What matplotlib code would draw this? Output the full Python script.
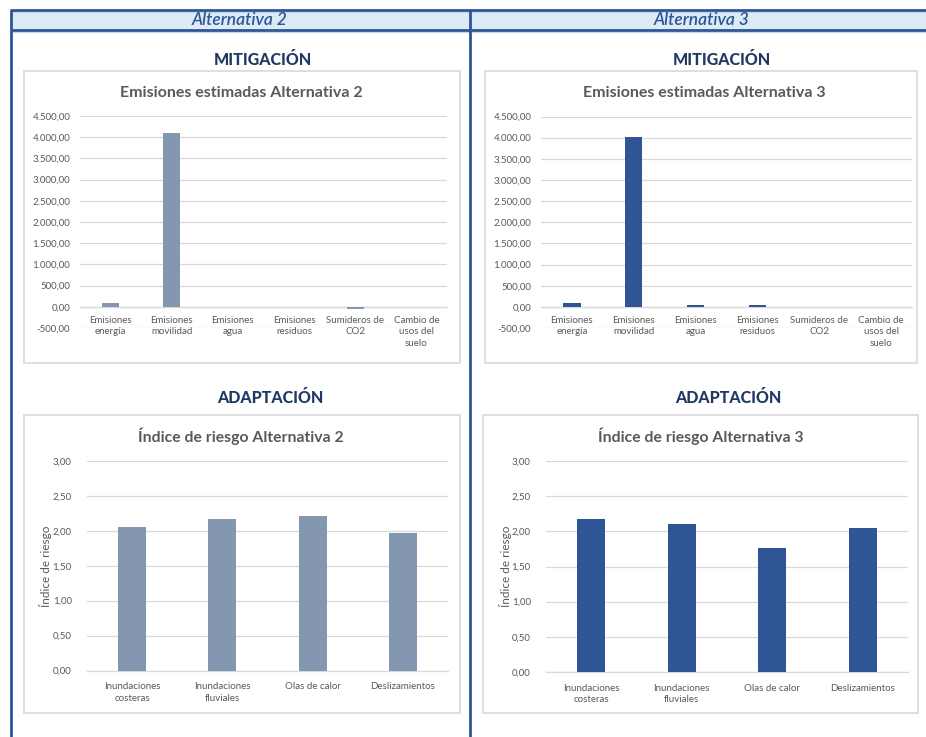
import matplotlib
matplotlib.use("Agg")
import matplotlib.pyplot as plt
from matplotlib.patches import Rectangle
from matplotlib.ticker import FuncFormatter, MultipleLocator

# ---------------- data ----------------
emis_categories = ["Emisiones\nenergía", "Emisiones\nmovilidad", "Emisiones\nagua",
                   "Emisiones\nresiduos", "Sumideros de\nCO2", "Cambio de\nusos del\nsuelo"]
emis_alt2 = [90, 4090, 0, 0, -50, 0]
emis_alt3 = [80, 4020, 40, 45, 0, 0]

risk_categories = ["Inundaciones\ncosteras", "Inundaciones\nfluviales", "Olas de calor", "Deslizamientos"]
risk_alt2 = [2.06, 2.17, 2.21, 1.97]
risk_alt3 = [2.18, 2.11, 1.77, 2.05]

headers = ["Alternativa 2", "Alternativa 3"]
section_titles = ["MITIGACIÓN", "ADAPTACIÓN"]
emis_titles = ["Emisiones estimadas Alternativa 2", "Emisiones estimadas Alternativa 3"]
risk_titles = ["Índice de riesgo Alternativa 2", "Índice de riesgo Alternativa 3"]
risk_ylabel = "Índice de riesgo"

# ---------------- style ----------------
W, H = 926, 737
COL2 = "#8497B0"
COL3 = "#2F5597"
DARK = "#2F5597"
NAVY = "#1F3864"
GRAY = "#595959"
GRID = "#D9D9D9"
FONT = ["Lato", "DejaVu Sans"]
plt.rcParams["font.family"] = FONT

fig = plt.figure(figsize=(W / 100, H / 100), dpi=100)
fig.patch.set_facecolor("white")


def rect(x0, y0, x1, y1):
    return [x0 / W, 1 - y1 / H, (x1 - x0) / W, (y1 - y0) / H]


# background/frame axes in pixel coords
bg = fig.add_axes([0, 0, 1, 1])
bg.set_xlim(0, W)
bg.set_ylim(H, 0)
bg.axis("off")

# header band
bg.add_patch(Rectangle((11, 9.5), W - 11, 20.5, facecolor="#DDEBF7", edgecolor="none", zorder=1))
for yy in (9.5, 30):
    bg.plot([11, W], [yy, yy], color=DARK, lw=2.0, zorder=3, solid_capstyle="butt")
    bg.plot([11, W], [yy + 2.2, yy + 2.2], color="#BDD7EE", lw=0.8, zorder=2)
for xx in (11, 470):
    bg.plot([xx, xx], [8.5, H], color=DARK, lw=2.0, zorder=3, solid_capstyle="butt")

bg.text(240, 19.5, headers[0], ha="center", va="center", fontsize=12.5, style="italic",
        fontweight="semibold", color=DARK)
bg.text(702, 19.5, headers[1], ha="center", va="center", fontsize=12.5, style="italic",
        fontweight="semibold", color=DARK)

# section titles
for cx, cy, t in [(263, 60, section_titles[0]), (722, 60, section_titles[0]),
                  (270, 398, section_titles[1]), (728, 398, section_titles[1])]:
    bg.text(cx, cy, t, ha="center", va="center", fontsize=11.5, fontweight="black",
            color=NAVY)

# chart boxes
for (x0, y0, x1, y1) in [(24, 71, 460, 363), (485, 71, 917, 363),
                          (24, 415, 460, 713), (483, 415, 918, 713)]:
    bg.add_patch(Rectangle((x0, y0), x1 - x0, y1 - y0, facecolor="white",
                           edgecolor=GRID, lw=1.2, zorder=2))

# chart titles
for cx, cy, t, fs in [(241, 93, emis_titles[0], 11.5), (704, 93, emis_titles[1], 11.5),
                      (241, 436, risk_titles[0], 11.3), (701, 436, risk_titles[1], 11.3)]:
    bg.text(cx, cy, t, ha="center", va="center", fontsize=fs, fontweight="bold",
            color=GRAY, zorder=5)


def num_fmt(v, pos):
    s = f"{v:,.2f}"
    return s.replace(",", "X").replace(".", ",").replace("X", ".")


def style_axes(ax, step):
    ax.set_facecolor("none")
    for s in ["top", "right", "left"]:
        ax.spines[s].set_visible(False)
    ax.spines["bottom"].set_position(("data", 0))
    ax.spines["bottom"].set_color(GRID)
    ax.spines["bottom"].set_linewidth(0.9)
    ax.yaxis.set_major_locator(MultipleLocator(step))
    ax.yaxis.set_major_formatter(FuncFormatter(num_fmt))
    ax.grid(axis="y", color=GRID, lw=0.9)
    ax.set_axisbelow(True)
    ax.tick_params(axis="both", length=0, colors=GRAY, labelsize=7)
    ax.tick_params(axis="y", pad=7)
    ax.tick_params(axis="x", pad=6.5)
    for lab in ax.get_xticklabels():
        lab.set_linespacing(1.35)


# emissions charts
for rect_px, vals, col in [((80, 116, 447, 328), emis_alt2, COL2),
                           ((541, 116.5, 912, 328), emis_alt3, COL3)]:
    ax = fig.add_axes(rect(*rect_px))
    x = range(len(emis_categories))
    ax.bar(x, vals, width=0.28, color=col, zorder=3)
    ax.set_xlim(-0.5, len(emis_categories) - 0.5)
    ax.set_ylim(-500, 4500)
    ax.set_xticks(list(x))
    ax.set_xticklabels(emis_categories)
    style_axes(ax, 500)

# risk charts
for rect_px, vals, col, ylx in [((87, 461, 448, 670.5), risk_alt2, COL2, 46),
                                ((546, 461, 908, 672), risk_alt3, COL3, 505)]:
    ax = fig.add_axes(rect(*rect_px))
    x = range(len(risk_categories))
    ax.bar(x, vals, width=0.31, color=col, zorder=3)
    ax.set_xlim(-0.5, len(risk_categories) - 0.5)
    ax.set_ylim(0, 3)
    ax.set_xticks(list(x))
    ax.set_xticklabels(risk_categories)
    style_axes(ax, 0.5)
    ax.tick_params(axis="y", pad=11)
    ax.tick_params(axis="x", pad=8.5)
    bg.text(ylx, 566, risk_ylabel, rotation=90, ha="center", va="center",
            fontsize=8.5, color=GRAY, zorder=5)

fig.savefig("out.png", dpi=100)
